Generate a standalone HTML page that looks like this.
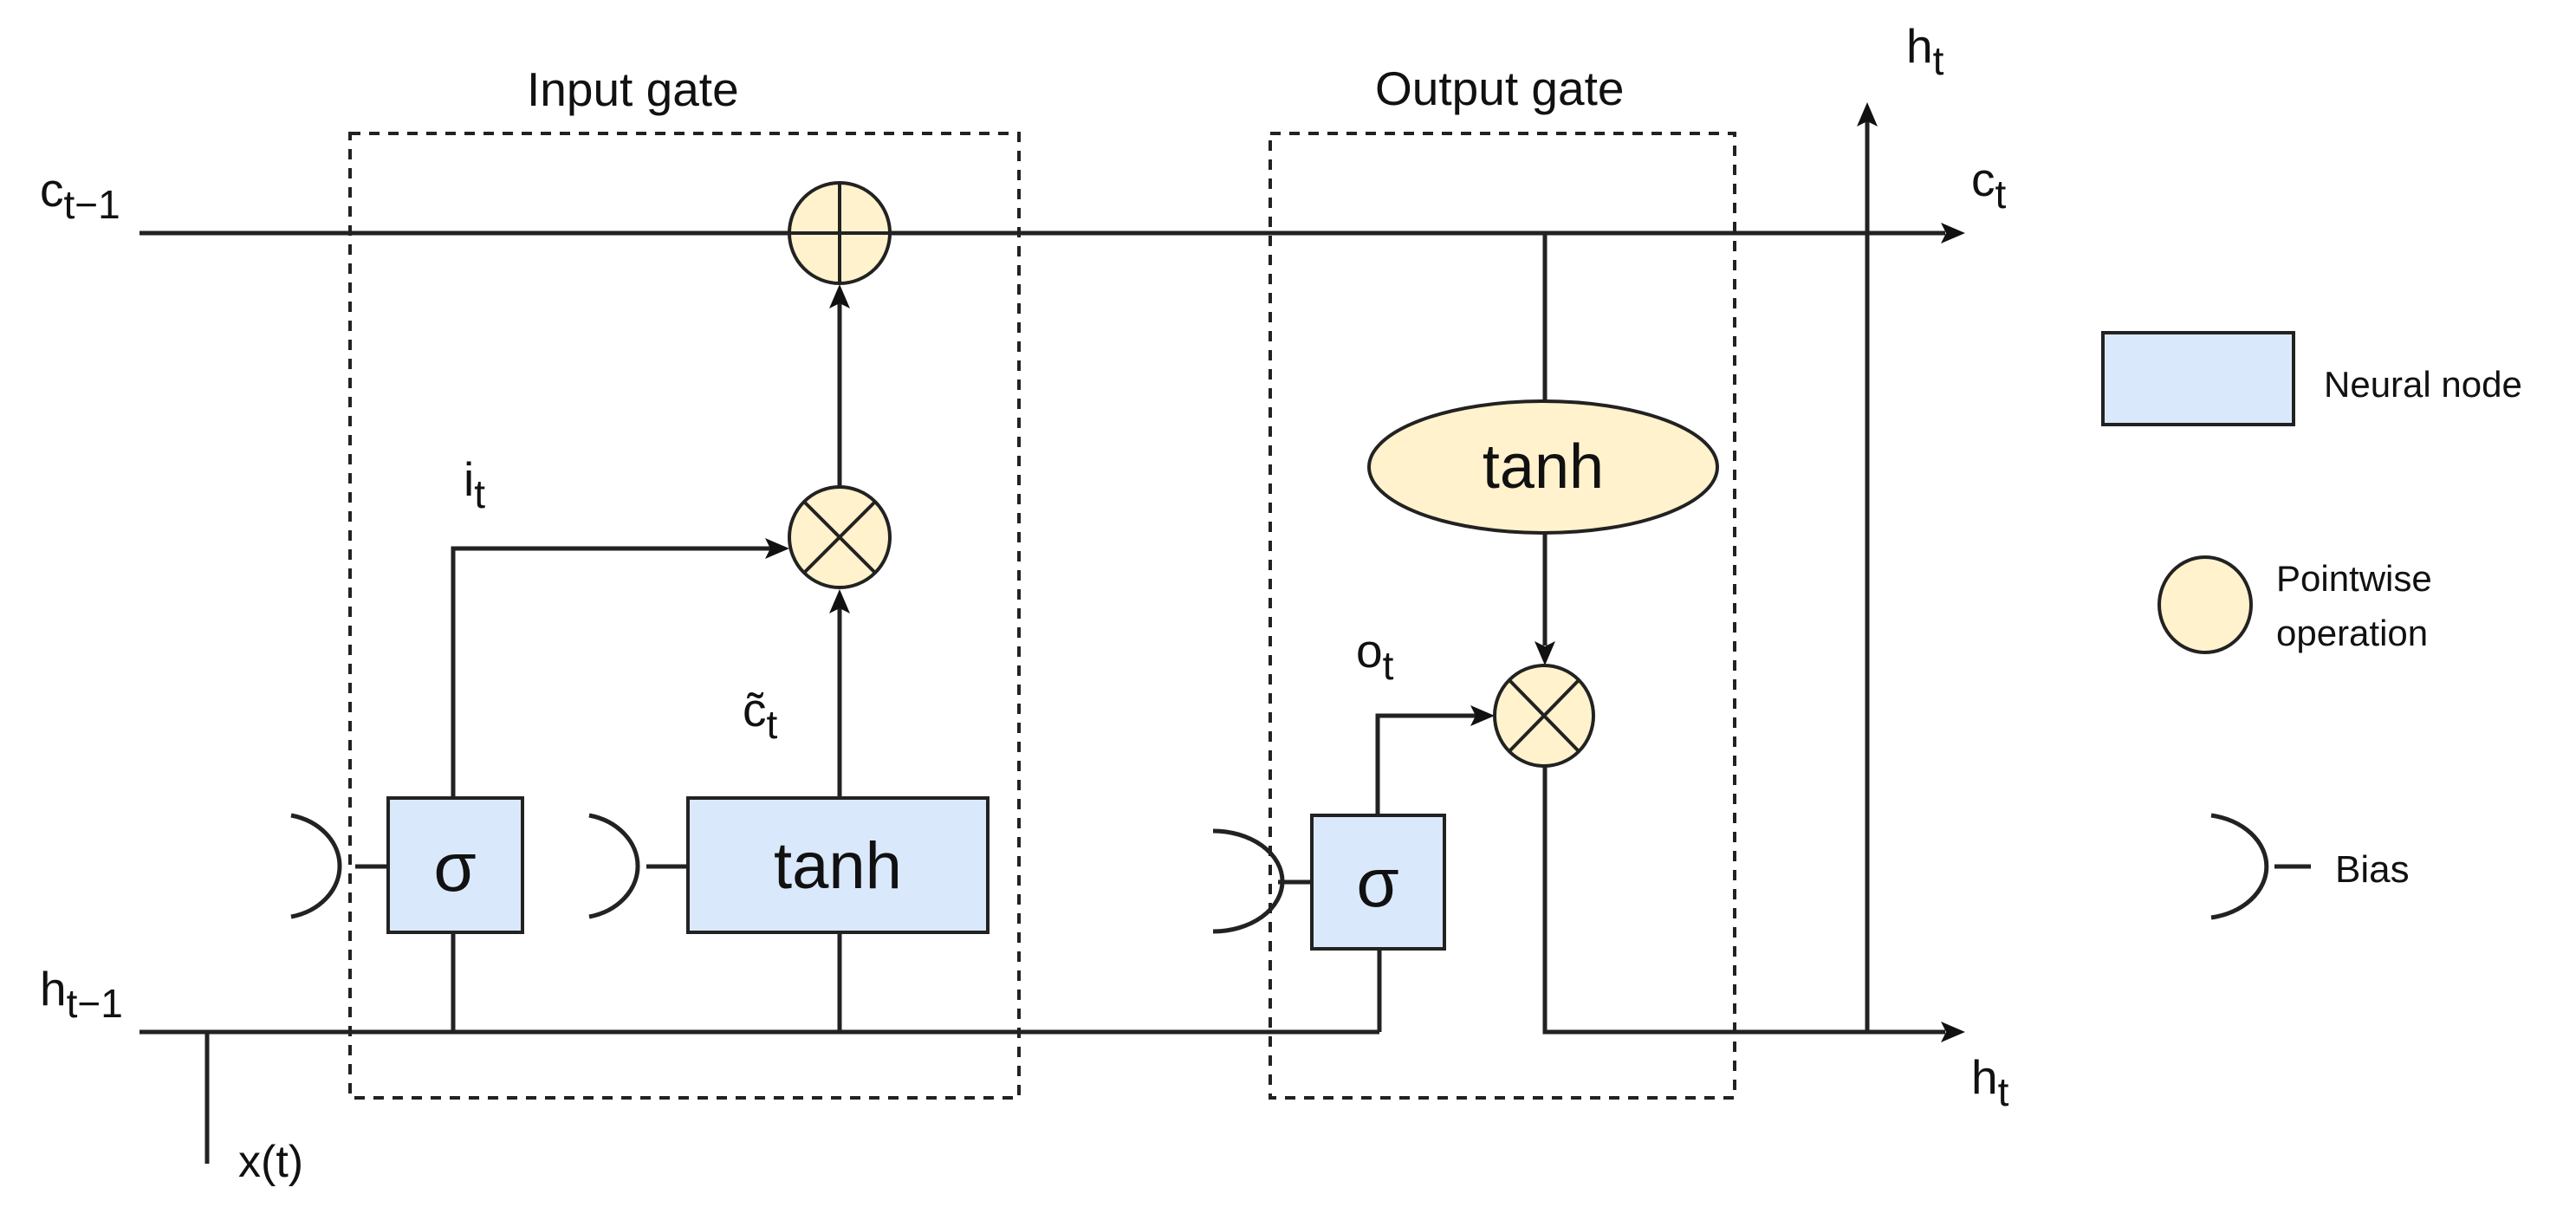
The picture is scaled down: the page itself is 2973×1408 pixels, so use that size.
<!DOCTYPE html>
<html><head><meta charset="utf-8"><style>
html,body{margin:0;padding:0;background:#fff}
svg{display:block}
text{font-family:"Liberation Sans",Arial,sans-serif;fill:#111}
</style></head><body>
<svg width="2973" height="1408" viewBox="0 0 2973 1408" xmlns="http://www.w3.org/2000/svg">
<defs>
<marker id="a" markerWidth="10" markerHeight="10" refX="9" refY="5" orient="auto" markerUnits="userSpaceOnUse" viewBox="0 0 10 10">
</marker>
</defs>
<g fill="none" stroke="#222" stroke-width="4" stroke-dasharray="12,10">
<rect x="404" y="154" width="772" height="1113"/>
<rect x="1466" y="154" width="536" height="1113"/>
</g>
<g stroke="#222" stroke-width="5" fill="none">
<line x1="161" y1="269" x2="2245" y2="269"/>
<line x1="161" y1="1191" x2="1592" y2="1191"/>
<line x1="239" y1="1191" x2="239" y2="1343"/>
<polyline points="1783,884 1783,1191 2245,1191"/>
<line x1="2155" y1="1191" x2="2155" y2="140"/>
<line x1="1783" y1="269" x2="1783" y2="462"/>
<line x1="1783" y1="615" x2="1783" y2="745"/>
<line x1="969" y1="562" x2="969" y2="347"/>
<line x1="969" y1="921" x2="969" y2="700"/>
<polyline points="523,921 523,633 890,633"/>
<line x1="523" y1="1077" x2="523" y2="1191"/>
<line x1="969" y1="1077" x2="969" y2="1191"/>
<polyline points="1592,1095 1592,1191"/>
<polyline points="1590,941 1590,826 1705,826"/>
<line x1="410" y1="1000" x2="448" y2="1000"/>
<line x1="746" y1="1000" x2="794" y2="1000"/>
<line x1="1475" y1="1018" x2="1514" y2="1018"/>
<line x1="2625" y1="1000" x2="2667" y2="1000"/>
<path d="M336,941 A72,60 0 0 1 336,1058"/>
<path d="M680,941 A72,60 0 0 1 680,1058"/>
<path d="M1400,959 A80,58 0 0 1 1400,1075"/>
<path d="M2552,941 A78,60 0 0 1 2552,1059"/>
</g>
<g fill="#111">
<polygon points="2268,269 2240,257 2246,269 2240,281"/>
<polygon points="2268,1191 2240,1179 2246,1191 2240,1203"/>
<polygon points="2155,118 2143,146 2155,140 2167,146"/>
<polygon points="969,328 957,356 969,350 981,356"/>
<polygon points="969,680 957,708 969,702 981,708"/>
<polygon points="911,633 883,621 889,633 883,645"/>
<polygon points="1783,768 1771,740 1783,746 1795,740"/>
<polygon points="1725,826 1697,814 1703,826 1697,838"/>
</g>
<g stroke="#222" stroke-width="4">
<rect x="448" y="921" width="155" height="155" fill="#dae8fc"/>
<rect x="794" y="921" width="346" height="155" fill="#dae8fc"/>
<rect x="1514" y="941" width="153" height="154" fill="#dae8fc"/>
<rect x="2427" y="384" width="220" height="106" fill="#dae8fc"/>
<ellipse cx="969" cy="269" rx="58" ry="58" fill="#fff2cc"/>
<ellipse cx="969" cy="620" rx="58" ry="58" fill="#fff2cc"/>
<ellipse cx="1781" cy="539" rx="201" ry="76" fill="#fff2cc"/>
<ellipse cx="1782" cy="826" rx="57" ry="58" fill="#fff2cc"/>
<ellipse cx="2545" cy="698" rx="53" ry="55" fill="#fff2cc"/>
<line x1="911" y1="269" x2="1027" y2="269"/>
<line x1="969" y1="211" x2="969" y2="327"/>
<line x1="928" y1="579" x2="1010" y2="661"/>
<line x1="1010" y1="579" x2="928" y2="661"/>
<line x1="1742" y1="785" x2="1822" y2="867"/>
<line x1="1822" y1="785" x2="1742" y2="867"/>
</g>
<text x="608" y="122" font-size="55">Input gate</text>
<text x="1587" y="121" font-size="55">Output gate</text>
<text x="46" y="238" font-size="55">c<tspan font-size="46" dy="14">t−1</tspan></text>
<text x="46" y="1160" font-size="55">h<tspan font-size="46" dy="14">t−1</tspan></text>
<text x="275" y="1358" font-size="52">x(t)</text>
<text x="535" y="572" font-size="55">i<tspan font-size="46" dy="14">t</tspan></text>
<text x="857" y="838" font-size="55">c̃<tspan font-size="46" dy="14">t</tspan></text>
<text x="1565" y="770" font-size="55">o<tspan font-size="46" dy="14">t</tspan></text>
<text x="2200" y="72" font-size="55">h<tspan font-size="46" dy="14">t</tspan></text>
<text x="2275" y="226" font-size="55">c<tspan font-size="46" dy="14">t</tspan></text>
<text x="2275" y="1262" font-size="55">h<tspan font-size="46" dy="14">t</tspan></text>
<text x="525" y="1028" font-size="80" text-anchor="middle">σ</text>
<text x="967" y="1025" font-size="76" text-anchor="middle">tanh</text>
<text x="1590" y="1046" font-size="80" text-anchor="middle">σ</text>
<text x="1781" y="563" font-size="72" text-anchor="middle">tanh</text>
<text x="2682" y="458" font-size="42">Neural node</text>
<text x="2627" y="682" font-size="42">Pointwise</text>
<text x="2627" y="745" font-size="42">operation</text>
<text x="2695" y="1018" font-size="44">Bias</text>
</svg>
</body></html>
